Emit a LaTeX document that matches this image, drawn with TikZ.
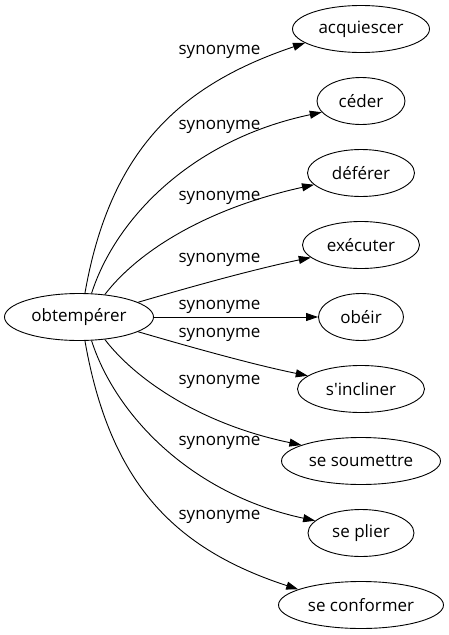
\documentclass[tikz,border=0pt]{standalone}
\usepackage{fontspec}
\newfontfamily\osans{Open Sans}
\usetikzlibrary{shapes.geometric,arrows.meta}
\begin{document}
\begin{tikzpicture}[x=1pt,y=-1pt,
  word/.style={ellipse,draw,line width=0.9pt,inner sep=0pt,minimum height=47pt,font=\osans\fontsize{17}{20}\selectfont},
  rel/.style={-{Triangle[length=12pt,width=8pt]},line width=0.9pt},
  lab/.style={font=\osans\fontsize{17}{20}\selectfont,inner sep=0pt}]
\useasboundingbox (0,0) rectangle (448,635);
% nodes
\node[word,minimum width=149pt] (c) at (79,317) {obtempérer};
\node[word,minimum width=137pt] (acq) at (361,29) {acquiescer};
\node[word,minimum width=88pt] (ced) at (361,101) {céder};
\node[word,minimum width=107pt] (def) at (361,173) {déférer};
\node[word,minimum width=117pt] (exe) at (361,245) {exécuter};
\node[word,minimum width=85pt] (obe) at (361,317) {obéir};
\node[word,minimum width=127pt] (inc) at (361,389) {s'incliner};
\node[word,minimum width=159pt] (sou) at (361,461) {se soumettre};
\node[word,minimum width=106pt] (pli) at (361,533) {se plier};
\node[word,minimum width=165pt] (con) at (361,605) {se conformer};
% labels
\node[lab] (l1) at (219.5,52) {synonyme};
\node[lab] (l2) at (219.5,127) {synonyme};
\node[lab] (l3) at (219.5,198) {synonyme};
\node[lab] (l4) at (219.5,260) {synonyme};
\node[lab] (l5) at (219.5,307) {synonyme};
\node[lab] (l6) at (219.5,335) {synonyme};
\node[lab] (l7) at (219.5,382) {synonyme};
\node[lab] (l8) at (219.5,443) {synonyme};
\node[lab] (l9) at (219.5,517) {synonyme};
% edges
\draw[rel] (c.76) .. controls (110,150) and (180,85) .. (acq.194);
\draw[rel] (c.62) .. controls (115,220) and (190,140) .. (ced.196);
\draw[rel] (c.41) .. controls (135,255) and (200,210) .. (def.194);
\draw[rel] (c.14.5) .. controls (180,290) and (250,270) .. (exe.194);
\draw[rel] (c.east) -- (obe.west);
\draw[rel] (c.-14.5) .. controls (180,344) and (250,364) .. (inc.166);
\draw[rel] (c.-41) .. controls (135,379) and (200,424) .. (sou.165);
\draw[rel] (c.-62) .. controls (115,414) and (190,494) .. (pli.165);
\draw[rel] (c.-76) .. controls (110,484) and (175,549) .. (con.166);
\end{tikzpicture}
\end{document}
